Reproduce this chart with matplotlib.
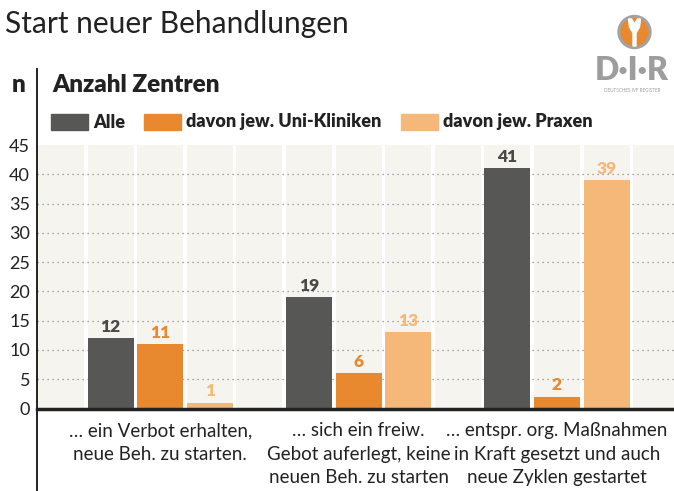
import matplotlib
matplotlib.use("Agg")
import matplotlib.pyplot as plt
from matplotlib.patches import Rectangle, Circle, Polygon
from matplotlib.lines import Line2D

# ---- data ----
categories = [
    "… ein Verbot erhalten,\nneue Beh. zu starten.",
    "… sich ein freiw.\nGebot auferlegt, keine\nneuen Beh. zu starten",
    "… entspr. org. Maßnahmen\nin Kraft gesetzt und auch\nneue Zyklen gestartet",
]
series_names = ["Alle", "davon jew. Uni-Kliniken", "davon jew. Praxen"]
alle = [12, 19, 41]
uni = [11, 6, 2]
praxen = [1, 13, 39]
yticks = [0, 5, 10, 15, 20, 25, 30, 35, 40, 45]

title = "Start neuer Behandlungen"
subtitle = "Anzahl Zentren"
ylabel = "n"

# ---- style ----
FONT = "Lato"
plt.rcParams["font.family"] = [FONT, "DejaVu Sans"]
colors = ["#575756", "#E8892F", "#F5B878"]
label_colors = ["#4a4a48", "#E8892F", "#F5B878"]
bg_col = "#F5F4EF"
ink = "#222222"

W, H = 674, 491
fig = plt.figure(figsize=(W / 100, H / 100), dpi=100)

def fx(x):
    return x / W

def fy(y):
    return 1 - y / H

# axes: left 37px, y=0 at 408.5px, y=45 at 145px
ax_left, ax_bottom_px, ax_top_px = 37, 408.5, 145
ax = fig.add_axes([fx(ax_left), fy(ax_bottom_px), fx(W - ax_left), (ax_bottom_px - ax_top_px) / H])

pitch = 49.6
slot0 = 61
col_w = 46 / pitch
ax.set_xlim((ax_left - slot0) / pitch, (W - slot0) / pitch)
ax.set_ylim(yticks[0], yticks[-1])

n_groups = len(categories)
n_slots = 4 * n_groups + 2
# background columns
ax.bar(range(n_slots), [yticks[-1]] * n_slots, width=col_w, color=bg_col, zorder=0, linewidth=0)

# grid
for v in yticks[1:-1]:
    ax.axhline(v, color="#8a8a8a", lw=0.9, linestyle=(0, (1, 3)), zorder=1)

# bars
series = [alle, uni, praxen]
for s, vals in enumerate(series):
    xs = [4 * g + 1 + s for g in range(n_groups)]
    ax.bar(xs, vals, width=col_w, color=colors[s], zorder=2, linewidth=0)
    for x, v in zip(xs, vals):
        ax.annotate(str(v), (x, v), xytext=(0, 2.5), textcoords="offset points",
                    ha="center", va="bottom", fontsize=12.5, fontweight="heavy",
                    color=label_colors[s], zorder=3)

# baseline
ax.axhline(0, color=ink, lw=2.5, zorder=4, clip_on=False)

for sp in ax.spines.values():
    sp.set_visible(False)

ax.set_yticks(yticks)
ax.set_yticklabels([str(t) for t in yticks], fontsize=13, color=ink)
ax.tick_params(axis="y", length=0, pad=5)

ax.set_xticks([4 * g + 2 for g in range(n_groups)])
ax.set_xticklabels(categories, fontsize=13.5, color=ink, linespacing=1.45)
ax.tick_params(axis="x", length=0, pad=10)

# vertical spine line
fig.add_artist(Line2D([fx(37), fx(37)], [fy(69), fy(491)], color=ink, lw=1.4))

# texts
fig.text(fx(5), fy(24), title, fontsize=21.5, color=ink, va="center", ha="left")
fig.text(fx(12), fy(85), ylabel, fontsize=17.5, fontweight="heavy", color=ink, va="center", ha="left")
fig.text(fx(52), fy(85), subtitle, fontsize=17.5, fontweight="heavy", color=ink, va="center", ha="left")

# legend
leg_patch_x = [51, 144, 401]
for i, name in enumerate(series_names):
    x0 = leg_patch_x[i]
    fig.add_artist(Rectangle((fx(x0), fy(130)), fx(37), 16 / H, color=colors[i], transform=fig.transFigure))
    fig.text(fx(x0 + 42), fy(122), name, fontsize=13, fontweight="heavy", color=ink, va="center", ha="left")

# logo
lax = fig.add_axes([fx(590), fy(95), fx(84), 90 / H])
lax.set_xlim(590, 674)
lax.set_ylim(95, 5)
lax.axis("off")
lax.add_patch(Circle((634.5, 32), 16.5, color="#a3a3a3"))
lax.add_patch(Circle((634.5, 32), 13.5, color="#E8892F"))
lax.add_patch(Polygon([(628.5, 19), (631.5, 19), (634.5, 24), (637.5, 19), (640.5, 19),
                       (639.5, 27), (636, 33), (636, 46), (633, 46), (633, 33), (629.5, 27)],
                      closed=True, color="white"))
lax.text(632, 80.5, "D·I·R", fontsize=23, fontweight="heavy", color="#9d9d9d", ha="center", va="baseline")
lax.text(632, 90, "DEUTSCHES IVF REGISTER", fontsize=3.3, color="#9d9d9d", ha="center", va="center")

fig.savefig("out.png", dpi=100)
